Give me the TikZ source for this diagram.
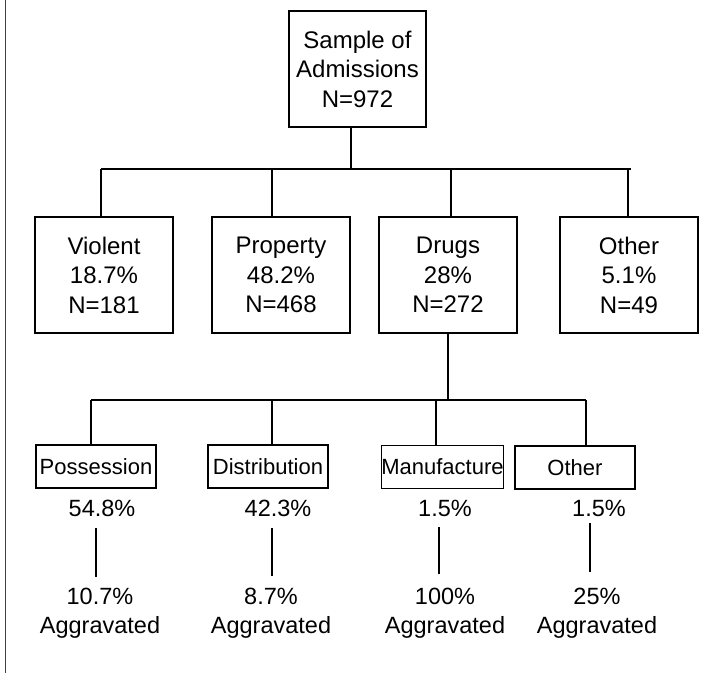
\documentclass[tikz,border=0pt]{standalone}
\usepackage{fontspec}
\setmainfont{Liberation Sans}
\begin{document}
\begin{tikzpicture}[x=1pt,y=-1pt,
  bigbox/.style={draw, line width=1.6pt, minimum width=138pt, minimum height=116pt, inner sep=0pt, align=center, font=\fontsize{24}{29.5}\selectfont},
  smallbox/.style={draw, line width=1.4pt, minimum width=120pt, minimum height=43pt, inner sep=0pt, font=\fontsize{22}{25}\selectfont},
  lab/.style={inner sep=0pt, align=center, font=\fontsize{23.5}{29}\selectfont},
  conn/.style={line width=1.3pt}]
\fill[white] (0,0) rectangle (705,673);
\useasboundingbox (0,0) rectangle (705,673);
\draw[line width=1pt, black!75] (5,0) -- (5,673);

% level 1
\node[bigbox, minimum width=137pt] (top) at (357.5,69) {Sample of\\Admissions\\N=972};

% level 2
\node[bigbox] (viol) at (104,275) {Violent\\18.7\%\\N=181};
\node[bigbox] (prop) at (281,275) {Property\\48.2\%\\N=468};
\node[bigbox] (drug) at (448,275) {Drugs\\28\%\\N=272};
\node[bigbox] (oth)  at (629,275) {Other\\5.1\%\\N=49};

\coordinate (bus) at (351,169);
\coordinate (b1) at (101,169);
\coordinate (b2) at (272,169);
\coordinate (b3) at (451,169);
\coordinate (b4) at (628,169);
\coordinate (bend) at (631,169);
\draw[conn] (bus |- top.south) -- (bus);
\draw[conn] (b1) -- (bend);
\draw[conn] (b1) -- (b1 |- viol.north);
\draw[conn] (b2) -- (b2 |- prop.north);
\draw[conn] (b3) -- (b3 |- drug.north);
\draw[conn] (b4) -- (b4 |- oth.north);

% level 3
\node[smallbox] (poss) at (96,466.5) {Possession};
\node[smallbox] (dist) at (268,466.5) {Distribution};
\node[smallbox] (manu) at (442.5,467) {Manufacture};
\node[smallbox] (doth) at (575,467.5) {Other};

\coordinate (dbus) at (448,400);
\coordinate (c1) at (91,400);
\coordinate (c2) at (272,400);
\coordinate (c3) at (436,400);
\coordinate (c4) at (586,400);
\draw[conn] (drug.south) -- (dbus);
\draw[conn] (c1) -- (c4);
\draw[conn] (c1) -- (c1 |- poss.north);
\draw[conn] (c2) -- (c2 |- dist.north);
\draw[conn] (c3) -- (c3 |- manu.north);
\draw[conn] (c4) -- (c4 |- doth.north);

% percentages
\node[lab] (p1) at (102,508) {54.8\%};
\node[lab] (p2) at (278,508) {42.3\%};
\node[lab] (p3) at (445,508) {1.5\%};
\node[lab] (p4) at (599,508) {1.5\%};

% aggravated
\node[lab] (a1) at (100,613.5) {10.7\%\\Aggravated};
\node[lab] (a2) at (271,613.5) {8.7\%\\Aggravated};
\node[lab] (a3) at (445,613.5) {100\%\\Aggravated};
\node[lab] (a4) at (597,613.5) {25\%\\Aggravated};

\draw[conn] ([xshift=-6pt]p1.south) ++(0,11.5) -- ++(0,49);
\draw[conn] ([xshift=-6pt]p2.south) ++(0,11.5) -- ++(0,48);
\draw[conn] ([xshift=-6pt]p3.south) ++(0,10.5) -- ++(0,47);
\draw[conn] ([xshift=-9pt]p4.south) ++(0,6.5) -- ++(0,49);
\end{tikzpicture}
\end{document}
